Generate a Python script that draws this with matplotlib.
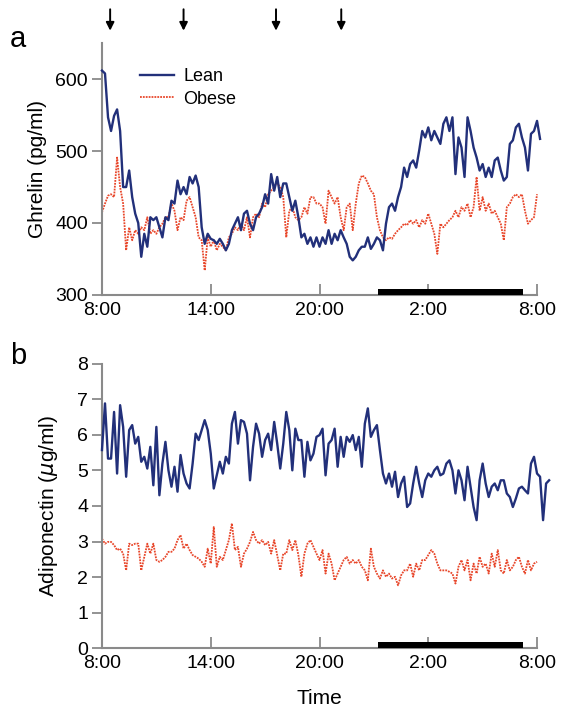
import numpy as np
import matplotlib
matplotlib.use("Agg")
from matplotlib import pyplot as plt

plt.rcParams["font.family"] = ["Liberation Sans", "DejaVu Sans"]

# hours after 8:00, sampled every 10 min
step_h = 1 / 6

ghrelin_lean = [
    612, 608, 547, 528, 549, 558, 528, 450, 450, 473, 436, 413, 400, 353, 385, 367,
    408, 404, 408, 394, 380, 408, 404, 431, 427, 459, 440, 450, 440, 464, 455, 466,
    450, 394, 371, 385, 378, 376, 371, 378, 371, 362, 371, 390, 399, 408, 390, 413,
    417, 399, 390, 408, 413, 422, 440, 427, 468, 445, 464, 436, 455, 455, 436, 417,
    431, 408, 380, 385, 371, 380, 367, 380, 367,
    380, 371, 390, 371, 385, 376, 390, 380, 371, 353, 348, 353, 362, 367, 367, 380,
    364, 371, 380, 376, 362, 399, 422, 427, 417, 436, 450, 477, 464, 482, 487, 477,
    501, 528, 519, 533, 515, 528, 519, 510, 538, 547, 528, 547, 468, 519, 505, 464,
    547, 528, 505, 491, 473, 482, 464, 477, 464, 487, 491, 473, 459, 464, 510, 515,
    533, 538, 519, 505, 473, 524, 528, 542, 517,
]
ghrelin_obese = [
    415, 427, 438, 440, 436, 491, 450, 427, 362, 394, 376, 390, 385, 394, 390, 408,
    385, 390, 385, 394, 399, 408, 408, 427, 417, 390, 408, 404, 431, 436, 422, 408,
    380, 376, 334, 380, 367, 376, 362, 371, 367, 362, 380, 385, 394, 390, 399, 390,
    408, 380, 408, 413, 408, 427, 422, 440, 445, 450, 455, 450, 436, 380, 417, 422,
    408, 404, 408, 422, 413, 436, 436, 427, 427,
    422, 399, 445, 436, 427, 436, 408, 390, 422, 427, 390, 427, 455, 466, 464, 455,
    445, 440, 408, 390, 380, 376, 380, 378, 385, 390, 394, 399, 397, 404, 399, 404,
    394, 404, 399, 413, 399, 385, 357, 399, 394, 399, 404, 408, 417, 408, 422, 417,
    427, 408, 422, 464, 417, 436, 417, 427, 413, 417, 408, 399, 376, 422, 427, 436,
    440, 436, 440, 417, 399, 404, 408, 440,
]
adipo_lean = [
    5.57, 6.88, 5.33, 5.33, 6.64, 4.91, 6.83, 6.22, 4.82, 6.13, 6.27, 5.75, 5.94, 5.24,
    5.38, 5.05, 5.66, 4.58, 6.22, 4.30, 5.19, 5.80, 5.00, 4.54, 5.10, 4.40, 5.43, 4.91,
    4.63, 4.49, 5.19, 6.03, 5.85, 6.13, 6.41, 6.13, 5.47, 4.49, 4.86, 5.24, 4.91, 5.38,
    5.19, 6.31, 6.64, 5.75, 6.41, 6.36, 6.03, 4.72, 5.66, 6.31, 6.03, 5.38, 5.85, 6.03,
    5.57, 6.36, 5.75, 5.05, 5.75, 6.64, 6.13, 5.00, 6.17, 5.85, 5.85, 4.82, 5.80, 5.28,
    5.47, 5.94, 5.99,
    6.17, 4.86, 5.75, 5.85, 6.17, 5.10, 5.94, 5.38, 5.94, 5.80, 5.99, 5.57, 5.94, 5.10,
    6.31, 6.74, 5.94, 6.13, 6.27, 5.57, 4.91, 4.63, 4.91, 4.54, 4.96, 4.25, 4.63, 4.82,
    3.97, 4.07, 4.63, 5.10, 4.63, 4.25, 4.72, 4.91, 4.82, 5.00, 5.10, 4.86, 4.91, 5.19,
    5.28, 5.00, 4.35, 5.00, 4.72, 4.16, 5.10, 4.54, 3.97, 3.60, 4.72, 5.19, 4.63, 4.25,
    4.54, 4.63, 4.44, 4.72, 4.72, 4.35, 4.25, 3.97, 4.21, 4.49, 4.54, 4.44, 4.35, 5.19,
    5.38, 4.91, 4.82, 3.60, 4.63, 4.72,
]
adipo_obese = [
    3.08, 2.94, 2.99, 2.99, 2.90, 2.76, 2.80, 2.66, 2.19, 2.94, 2.90, 2.94, 2.94, 2.19,
    2.57, 2.94, 2.66, 2.94, 2.48, 2.43, 2.48, 2.57, 2.71, 2.71, 2.80, 3.04, 3.18, 2.80,
    2.94, 2.76, 2.62, 2.57, 2.52, 2.43, 2.29, 2.80, 2.38, 3.41, 2.29, 2.57, 2.48, 2.76,
    3.04, 3.51, 2.76, 2.85, 2.29, 2.66, 2.80, 2.99, 3.27, 3.04, 2.94, 3.04, 2.90, 2.99,
    2.66, 3.04, 2.62, 2.19, 2.66, 2.66, 3.04, 2.76, 3.04, 2.62, 2.01, 2.66, 2.94, 3.04,
    2.85, 2.66, 2.48,
    2.76, 2.10, 2.66, 2.38, 1.91, 2.10, 2.29, 2.48, 2.57, 2.38, 2.48, 2.38, 2.48, 2.29,
    2.19, 1.91, 2.80, 2.29, 2.10, 1.96, 2.19, 2.01, 2.10, 1.96, 2.01, 1.77, 2.05, 2.19,
    2.19, 2.38, 2.01, 2.38, 2.19, 2.48, 2.48, 2.62, 2.76, 2.66, 2.38, 2.19, 2.19, 2.19,
    2.15, 2.10, 1.82, 2.29, 2.48, 2.19, 2.48, 1.91, 2.38, 2.10, 2.57, 2.29, 2.38, 2.10,
    2.66, 2.29, 2.76, 2.19, 2.10, 2.48, 2.19, 2.29, 2.48, 2.57, 2.29, 2.10, 2.48, 2.19,
    2.38, 2.43,
]

tick_hours = [0, 6, 12, 18, 24]
tick_labels = ["8:00", "14:00", "20:00", "2:00", "8:00"]
meal_hours = [0.45, 4.5, 9.6, 13.2]
sleep_hours = (15.2, 23.2)

lean_color = "#22307a"
obese_color = "#e8472b"
spine_color = "#8a8a8a"


def hours(values):
    return np.arange(len(values)) * step_h


def style_axis(ax, ylim, yticks):
    ax.set_xlim(0, 24)
    ax.set_ylim(*ylim)
    ax.set_xticks(tick_hours)
    ax.set_xticklabels(tick_labels)
    ax.set_yticks(yticks)
    for side in ("top", "right"):
        ax.spines[side].set_visible(False)
    for side in ("left", "bottom"):
        ax.spines[side].set_color(spine_color)
        ax.spines[side].set_linewidth(1.5)
    ax.tick_params(axis="y", direction="out", length=7, width=1.3,
                   color=spine_color, labelsize=14, pad=3)
    ax.tick_params(axis="x", direction="in", length=8, width=1.3,
                   color=spine_color, labelsize=14, pad=5)


fig = plt.figure(figsize=(5.65, 7.21), dpi=100)
ax_a = fig.add_axes([0.1805, 0.591, 0.770, 0.349])
ax_b = fig.add_axes([0.1805, 0.1008, 0.770, 0.395])

# panel a: ghrelin
ax_a.plot(hours(ghrelin_lean), ghrelin_lean, color=lean_color, lw=1.7,
          label="Lean", clip_on=False, zorder=3)
ax_a.plot(hours(ghrelin_obese), ghrelin_obese, color=obese_color, lw=1.3,
          ls=(0, (1, 0.6)), label="Obese", clip_on=False, zorder=2)
style_axis(ax_a, (300, 650), [300, 400, 500, 600])
ax_a.fill_between(sleep_hours, 300, 308, color="black", lw=0, zorder=4)
ax_a.set_ylabel("Ghrelin (pg/ml)", fontsize=15, labelpad=6)
ax_a.legend(loc="upper left", bbox_to_anchor=(0.05, 0.965), frameon=False,
            fontsize=13, handlelength=1.9, handletextpad=0.5, labelspacing=0.3)
for hr in meal_hours:
    ax_a.annotate("", xy=(hr, 1.05), xytext=(hr, 1.135),
                  xycoords=("data", "axes fraction"),
                  textcoords=("data", "axes fraction"),
                  arrowprops=dict(arrowstyle="-|>", color="black", lw=1.4,
                                  mutation_scale=12, shrinkA=0, shrinkB=0),
                  annotation_clip=False)

# panel b: adiponectin
ax_b.plot(hours(adipo_lean), adipo_lean, color=lean_color, lw=1.7,
          clip_on=False, zorder=3)
ax_b.plot(hours(adipo_obese), adipo_obese, color=obese_color, lw=1.3,
          ls=(0, (1, 0.6)), clip_on=False, zorder=2)
style_axis(ax_b, (0, 8), list(range(9)))
ax_b.fill_between(sleep_hours, 0, 0.17, color="black", lw=0, zorder=4)
ax_b.set_ylabel(r"Adiponectin ($\mu$g/ml)", fontsize=15, labelpad=12)
ax_b.set_xlabel("Time", fontsize=15, labelpad=12)

fig.text(0.018, 0.935, "a", fontsize=21)
fig.text(0.018, 0.495, "b", fontsize=21)

fig.savefig("out.png", dpi=100)
plt.close(fig)
